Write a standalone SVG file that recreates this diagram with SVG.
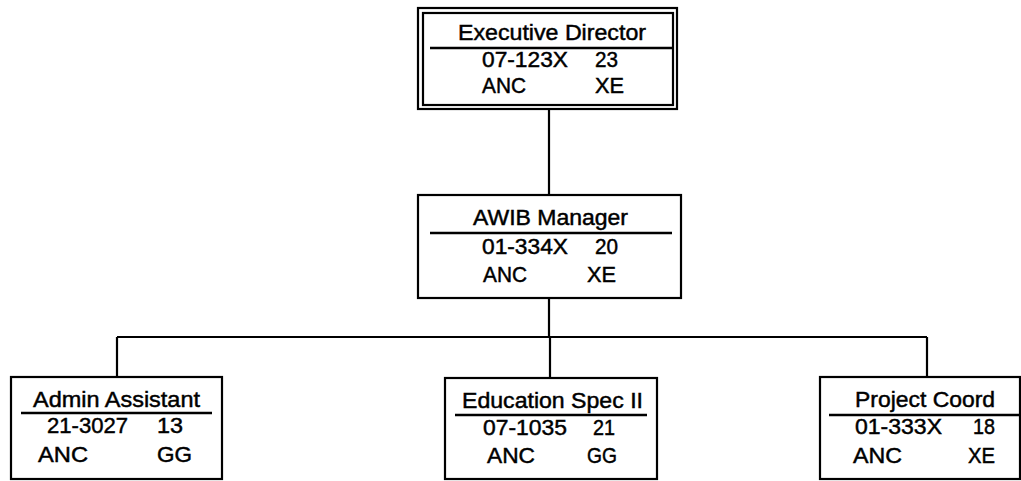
<svg xmlns="http://www.w3.org/2000/svg" width="1021" height="481" viewBox="0 0 1021 481">
<style>
.box{fill:#fff;stroke:#000;stroke-width:2.2}
.ul{stroke:#000;stroke-width:2.4}
.c{stroke:#000;stroke-width:2.2;fill:none}
text{font-family:"Liberation Sans",Arial,sans-serif;font-size:21.5px;fill:#000;stroke:#000;stroke-width:0.45}
</style>
<rect width="1021" height="481" fill="#fff"/>
<g id="connectors">
<path class="c" d="M549 109V195M549 298V337M117 337H927M117 337V377M550 337V378M927 337V377"/>
</g>
<g id="exec">
<rect class="box" x="418" y="8" width="259" height="101"/>
<rect class="box" x="423" y="13" width="250" height="92"/>
<line class="ul" x1="430" y1="48" x2="672" y2="48"/>
<text x="458" y="40" textLength="188" lengthAdjust="spacingAndGlyphs">Executive Director</text>
<text x="482" y="67" textLength="86" lengthAdjust="spacingAndGlyphs">07-123X</text>
<text x="595" y="67" textLength="23" lengthAdjust="spacingAndGlyphs">23</text>
<text x="482" y="93" textLength="44" lengthAdjust="spacingAndGlyphs">ANC</text>
<text x="595" y="93" textLength="29" lengthAdjust="spacingAndGlyphs">XE</text>
</g>
<g id="awib">
<rect class="box" x="418" y="195" width="263" height="103"/>
<line class="ul" x1="430" y1="233" x2="672" y2="233"/>
<text x="473" y="225" textLength="155" lengthAdjust="spacingAndGlyphs">AWIB Manager</text>
<text x="482" y="254" textLength="86" lengthAdjust="spacingAndGlyphs">01-334X</text>
<text x="595" y="254" textLength="23" lengthAdjust="spacingAndGlyphs">20</text>
<text x="483" y="282" textLength="44" lengthAdjust="spacingAndGlyphs">ANC</text>
<text x="587" y="282" textLength="29" lengthAdjust="spacingAndGlyphs">XE</text>
</g>
<g id="admin">
<rect class="box" x="11" y="377" width="211" height="102"/>
<line class="ul" x1="21" y1="413" x2="212" y2="413"/>
<text x="33" y="407" textLength="167" lengthAdjust="spacingAndGlyphs">Admin Assistant</text>
<text x="47" y="433" textLength="81" lengthAdjust="spacingAndGlyphs">21-3027</text>
<text x="157" y="433" textLength="26" lengthAdjust="spacingAndGlyphs">13</text>
<text x="38" y="462" textLength="50" lengthAdjust="spacingAndGlyphs">ANC</text>
<text x="157" y="462" textLength="35" lengthAdjust="spacingAndGlyphs">GG</text>
</g>
<g id="edu">
<rect class="box" x="445" y="378" width="212" height="101"/>
<line class="ul" x1="455" y1="415" x2="647" y2="415"/>
<text x="462" y="408" textLength="181" lengthAdjust="spacingAndGlyphs">Education Spec II</text>
<text x="483" y="435" textLength="84" lengthAdjust="spacingAndGlyphs">07-1035</text>
<text x="593" y="435" textLength="22" lengthAdjust="spacingAndGlyphs">21</text>
<text x="487" y="463" textLength="48" lengthAdjust="spacingAndGlyphs">ANC</text>
<text x="587" y="463" textLength="30" lengthAdjust="spacingAndGlyphs">GG</text>
</g>
<g id="project">
<rect class="box" x="820" y="377" width="200" height="102"/>
<line class="ul" x1="829" y1="415" x2="1021" y2="415"/>
<text x="855" y="407" textLength="140" lengthAdjust="spacingAndGlyphs">Project Coord</text>
<text x="855" y="434" textLength="87" lengthAdjust="spacingAndGlyphs">01-333X</text>
<text x="973" y="434" textLength="22" lengthAdjust="spacingAndGlyphs">18</text>
<text x="853" y="463" textLength="49" lengthAdjust="spacingAndGlyphs">ANC</text>
<text x="968" y="463" textLength="27" lengthAdjust="spacingAndGlyphs">XE</text>
</g>
</svg>
